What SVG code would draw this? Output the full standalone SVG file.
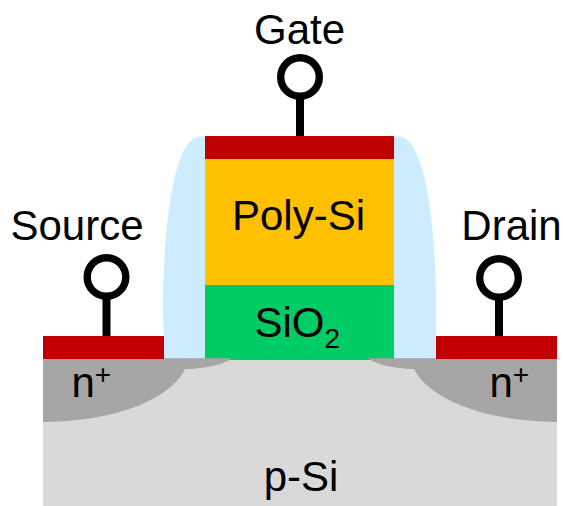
<svg xmlns="http://www.w3.org/2000/svg" width="563" height="506" viewBox="0 0 563 506">
<style>
text{font-family:"Liberation Sans",Arial,sans-serif;font-size:42px;fill:#000;text-anchor:middle}
.stem{fill:#000}
.ring{fill:#fff;stroke:#000;stroke-width:7.4}
.red{fill:#c00000}
.spacer{fill:#cdecff}
.nplus{fill:#a6a6a6}
</style>
<g id="substrate"><rect x="43" y="358" width="514" height="148" fill="#d9d9d9"/><text x="301" y="491">p-Si</text></g>
<g id="spacer-left"><path class="spacer" d="M205 136.500H200C188 137 180 155 174 180C167 212 163 260 163 305C163 320 164 330 164 358.500H205Z"/></g>
<g id="spacer-right"><path class="spacer" d="M394 136.500H399C411 137 419 155 425 180C432 212 436 260 436 305C436 320 436 330 436 358.500H394Z"/></g>
<g id="oxide"><rect x="205" y="285" width="189" height="75" fill="#00cc66"/><text x="254.500" y="337" style="text-anchor:start">SiO<tspan font-size="28" dy="10.500">2</tspan></text></g>
<g id="source-region"><path class="nplus" d="M43 358.300H232C226 364 205 369 185 369C175 392 130 421 43 422Z"/><text x="71.500" y="397" style="text-anchor:start">n<tspan font-size="28" dy="-13">+</tspan></text></g>
<g id="drain-region"><path class="nplus" d="M557 358.300H368C374 364 395 369 414 369C425 392 470 421 557 422Z"/><text x="489.500" y="397" style="text-anchor:start">n<tspan font-size="28" dy="-13">+</tspan></text></g>
<g id="poly"><rect x="205" y="159" width="189" height="126" fill="#ffc000"/><text x="298.500" y="230">Poly-Si</text></g>
<g id="gate-contact"><rect class="red" x="205" y="136" width="189" height="23"/></g>
<g id="source-contact"><rect class="red" x="43" y="336" width="121" height="23"/></g>
<g id="drain-contact"><rect class="red" x="436" y="336" width="121" height="23"/></g>
<g id="connectors">
<rect class="stem" x="296" y="96" width="8" height="40"/>
<rect class="stem" x="102.500" y="296" width="8" height="40"/>
<rect class="stem" x="495" y="296" width="8" height="40"/>
</g>
<g id="gate-terminal"><circle class="ring" cx="300" cy="77" r="19.300"/><text x="299.500" y="44">Gate</text></g>
<g id="source-terminal"><circle class="ring" cx="106.500" cy="277" r="19.300"/><text x="77" y="240">Source</text></g>
<g id="drain-terminal"><circle class="ring" cx="499" cy="278" r="19.300"/><text x="511.500" y="240">Drain</text></g>
</svg>
